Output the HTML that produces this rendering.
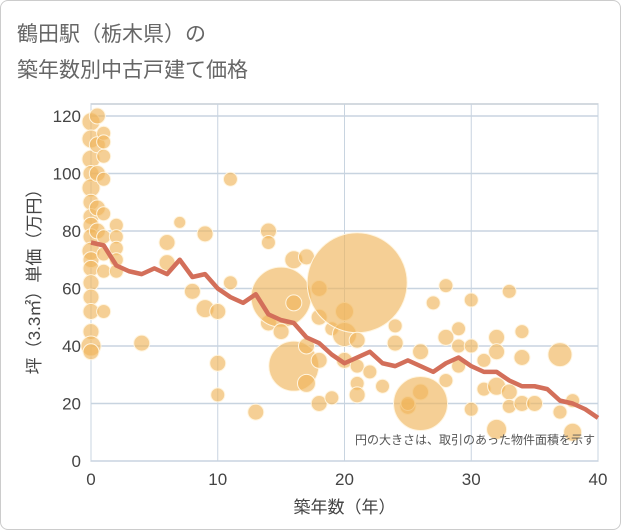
<!DOCTYPE html>
<html><head><meta charset="utf-8"><style>
body{margin:0;background:#fff;font-family:"Liberation Sans","Noto Sans CJK JP",sans-serif;}
#wrap{position:relative;width:619px;height:528px;border:1px solid #ccc;border-radius:8px;overflow:hidden;background:#fff}
</style></head><body>
<div id="wrap">
<svg id="c" width="621" height="530"></svg>
</div>
<script>
const xTicks=[0,10,20,30,40];
const yTicks=[0,20,40,60,80,100,120];
const lineYears=[0,1,2,3,4,5,6,7,8,9,10,11,12,13,14,15,16,17,18,19,20,21,22,23,24,25,26,27,28,29,30,31,32,33,34,35,36,37,38,39,40];
const linePrices=[76,75,68,66,65,67,65,70,64,65,60,57,55,58,51,49,48,43,41,37,34,36,38,34,33,35,33,31,34,36,33,31,31,28,26,26,25,21,20,18,15];
const bubX=[0,0,0,0,0,0,0,0,0,0,0,0,0,0,0,0,0,0,0.5,0.5,0.5,0.5,0.5,1,1,1,1,1,1,1,1,1,2,2,2,2,2,4,6,6,7,8,9,9,10,10,10,11,11,13,14,14,14,15,15,16,16,16,17,17,17,18,18,18,18,19,19,20,20,20,21,21,21,21,21,22,23,24,24,25,25,26,26,26,27,28,28,28,29,29,29,30,30,30,31,31,32,32,32,32,33,33,33,34,34,34,35,37,37,38,38];
const bubY=[118,112,105,100,95,90,85,82,78,73,70,67,62,57,52,45,40,38,120,110,100,88,80,114,111,106,98,86,78,72,66,52,82,78,74,70,66,41,76,69,83,59,79,53,52,34,23,98,62,17,80,76,48,57,45,70,55,33,71,40,27,60,50,35,20,46,22,44,52,35,62,42,33,27,23,31,26,41,47,19,20,24,20,38,55,61,43,28,46,40,33,56,40,18,35,25,43,26,38,11,59,24,19,45,36,20,20,37,17,21,10];
const bubR=[9,9,9,8,9,8,8,8,8,9,8,8,8,8,8,8,10,8,8,8,8,8,8,7,7,7,7,7,7,7,7,7,7,7,7,7,7,8,8,8,6,8,8,9,8,8,7,7,7,8,8,7,8,30,8,9,8,25,8,8,9,8,8,8,8,7,7,12,9,8,50,8,7,7,8,7,7,8,7,8,7,8,27,8,7,7,8,7,7,7,7,7,7,7,7,7,8,9,8,10,7,8,7,7,8,8,8,12,7,7,9];
const NS="http://www.w3.org/2000/svg";
const svg=document.getElementById('c');
const L=90,R=597,T=103,B=460;
const sx=v=>L+(v-0)/40*(R-L);
const sy=v=>B-v/120*(B-115);
function mk(t,a){const e=document.createElementNS(NS,t);for(const k in a)e.setAttribute(k,a[k]);svg.appendChild(e);return e;}
function tx(x,y,s,sz,fill,anchor){const e=mk('text',{x:x,y:y,'font-size':sz,fill:fill,'text-anchor':anchor||'start'});e.textContent=s;return e;}
let e;
e=tx(16,40,'鶴田駅（栃木県）の',21,'#666');

e=tx(16,76,'築年数別中古戸建て価格',21,'#666');

e=mk('rect',{x:L,y:T,width:R-L,height:B-T,fill:'#fff',stroke:'#aab4c0'});

xTicks.forEach(v=>{
 const g=mk('line',{x1:sx(v),x2:sx(v),y1:T,y2:B,stroke:'#c8d4e0'});
 
 const t=tx(sx(v),484,String(v),17,'#444','middle');
 
});
yTicks.forEach(v=>{
 const g=mk('line',{x1:L,x2:R,y1:sy(v),y2:sy(v),stroke:'#c8d4e0','stroke-width':1.5});
 
 const t=tx(80,sy(v)+6,String(v),17,'#444','end');
 
});
bubX.forEach((x,i)=>{
 const c=mk('circle',{cx:sx(x),cy:sy(bubY[i]),r:bubR[i],fill:'#efb55c','fill-opacity':0.65,stroke:'#fff5e0','stroke-width':1});
 
});
const pts=lineYears.map((x,i)=>sx(x)+','+sy(linePrices[i])).join(' ');
e=mk('polyline',{points:pts,fill:'none',stroke:'#d36f5a','stroke-width':4.5,'stroke-linejoin':'round'});

e=tx(594,443,'円の大きさは、取引のあった物件面積を示す',12,'#555','end');

e=tx(sx(20),512,'築年数（年）',17,'#444','middle');

e=tx(0,0,'坪（3.3㎡）単価（万円）',17,'#444','middle');
e.setAttribute('transform','translate(39,'+((T+B)/2-5)+') rotate(-90)');

</script>
</body></html>
